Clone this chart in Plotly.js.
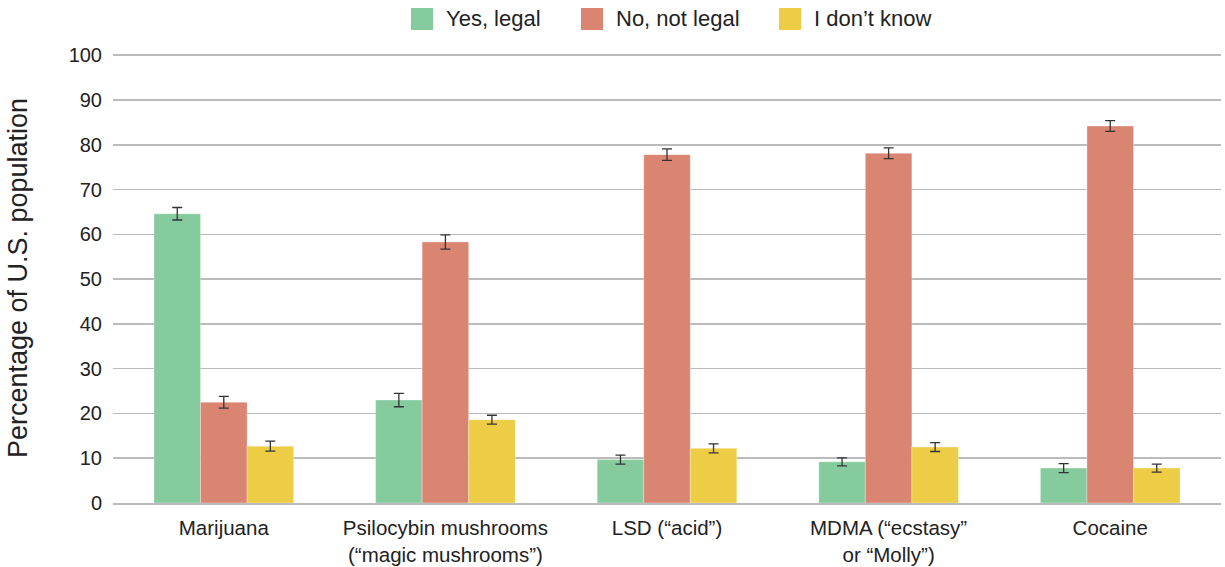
<!DOCTYPE html>
<html>
<head>
<meta charset="utf-8">
<script src="https://cdn.plot.ly/plotly-3.0.1.min.js"></script>
<style>
  html, body { margin: 0; padding: 0; background: #ffffff; }
  #chart { width: 1225px; height: 567px; }
</style>
</head>
<body>
<div id="chart"></div>
<script>
// Substances asked about
const categories = [
  "Marijuana",
  "Psilocybin mushrooms<br>(\u201cmagic mushrooms\u201d)",
  "LSD (\u201cacid\u201d)",
  "MDMA (\u201cecstasy\u201d<br>or \u201cMolly\u201d)",
  "Cocaine"
];

// Share of respondents (%) per answer, with error margins
const yesLegal    = [64.6, 23.0, 9.7, 9.2, 7.8];
const yesErr      = [1.4, 1.5, 1.0, 0.9, 1.0];
const notLegal    = [22.5, 58.3, 77.8, 78.1, 84.2];
const notErr      = [1.3, 1.6, 1.3, 1.2, 1.2];
const dontKnow    = [12.7, 18.6, 12.2, 12.5, 7.8];
const dontKnowErr = [1.1, 1.0, 1.0, 1.0, 0.9];

const seriesNames = ["Yes, legal", "No, not legal", "I don\u2019t know"];
const colors = ["#86cb9e", "#da8572", "#eccd45"];

// Page geometry (px)
const W = 1225, H = 567;
const M = { l: 113, r: 4, t: 53, b: 64 };
const plotW = W - M.l - M.r, plotH = H - M.t - M.b;
const toPaperX = px => (px - M.l) / plotW;
const toPaperY = py => (H - M.b - py) / plotH;

function barTrace(name, values, errs, color) {
  return {
    type: "bar",
    name: name,
    x: categories,
    y: values,
    marker: { color: color, line: { color: "rgba(255,255,255,0.6)", width: 0.5 } },
    error_y: { type: "data", array: errs, visible: true, color: "#333333", thickness: 1.3, width: 5 },
    showlegend: false,
    hoverinfo: "skip"
  };
}

const data = [
  barTrace(seriesNames[0], yesLegal, yesErr, colors[0]),
  barTrace(seriesNames[1], notLegal, notErr, colors[1]),
  barTrace(seriesNames[2], dontKnow, dontKnowErr, colors[2])
];

// Key across the top: a square swatch followed by the label
const keySwatchLeft = [411, 581, 779];
const keySize = 22, keyMidY = 19;
const shapes = [], annotations = [];
seriesNames.forEach((name, i) => {
  const x0 = keySwatchLeft[i];
  shapes.push({
    type: "rect", xref: "paper", yref: "paper", layer: "above",
    x0: toPaperX(x0), x1: toPaperX(x0 + keySize),
    y0: toPaperY(keyMidY + keySize / 2), y1: toPaperY(keyMidY - keySize / 2),
    fillcolor: colors[i], line: { width: 0 }
  });
  annotations.push({
    xref: "paper", yref: "paper",
    x: toPaperX(x0 + keySize + 11), y: toPaperY(keyMidY),
    xanchor: "left", yanchor: "middle",
    text: name, showarrow: false,
    font: { size: 22, color: "#222222" }
  });
});

const layout = {
  width: W,
  height: H,
  margin: M,
  paper_bgcolor: "#ffffff",
  plot_bgcolor: "#ffffff",
  font: { family: "Liberation Sans, Arial, sans-serif", size: 20, color: "#222222" },
  barmode: "group",
  bargap: 0.37,
  bargroupgap: 0,
  showlegend: false,
  shapes: shapes,
  annotations: annotations,
  xaxis: {
    type: "category",
    showgrid: false,
    showline: true,
    linecolor: "#bbbbbb",
    linewidth: 1.5,
    ticks: "",
    tickfont: { size: 20.5, color: "#222222" },
    ticklabelstandoff: 6
  },
  yaxis: {
    // a little headroom so the gridline at 100 is kept
    range: [0, 100.5],
    tickvals: [0, 10, 20, 30, 40, 50, 60, 70, 80, 90, 100],
    showgrid: true,
    gridcolor: "#bbbbbb",
    gridwidth: 1.5,
    zeroline: false,
    showline: false,
    ticks: "",
    ticklabelstandoff: 10,
    tickfont: { size: 20, color: "#222222" },
    title: { text: "Percentage of U.S. population", font: { size: 27, color: "#222222" }, standoff: 33 }
  }
};

Plotly.newPlot("chart", data, layout, { displayModeBar: false, staticPlot: true });
</script>
</body>
</html>
